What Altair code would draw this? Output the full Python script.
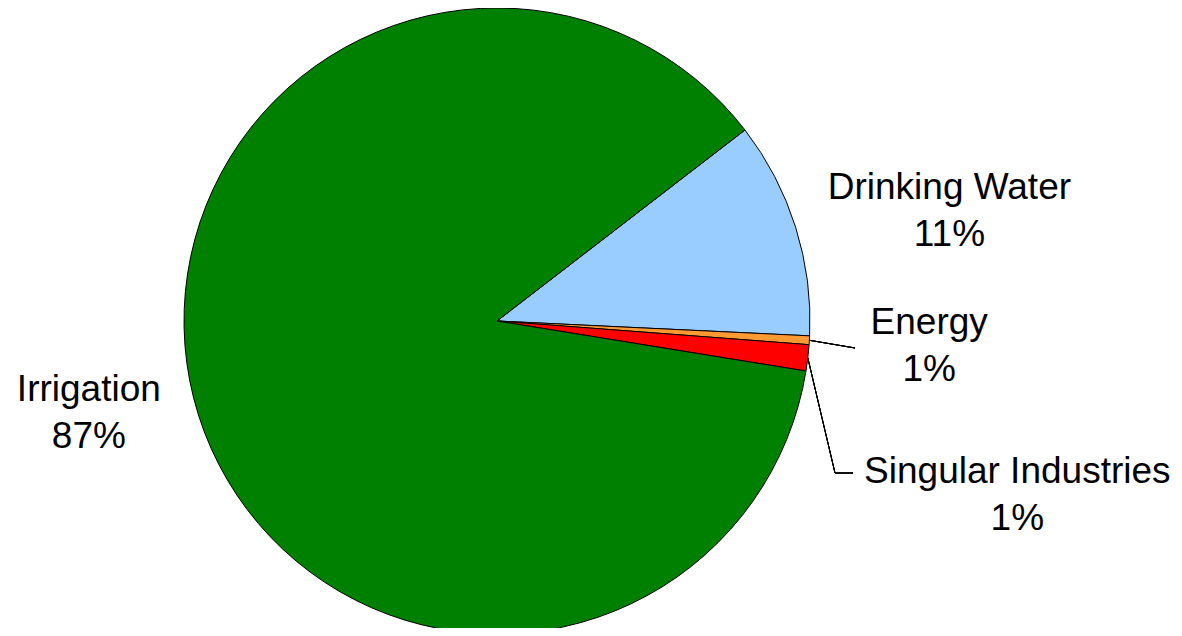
import math
import altair as alt
import pandas as pd

# ---- data ----
categories = ["Drinking Water", "Energy", "Singular Industries", "Irrigation"]
shares = [11.2, 0.45, 1.35, 87.0]
pct_labels = ["11%", "1%", "1%", "87%"]
colors = ["#99CCFF", "#FF9933", "#FF0000", "#008000"]

# ---- layout / style ----
START_DEG = 52.4
W, H = 1166, 620
CX, CY, R = 489, 313, 313
FONT = "Liberation Sans"
FS = 37
LH = 47
label_layout = {  # radius, dx, dy
    "Drinking Water": (470, 4, 8),
    "Energy": (432, 1, -25),
    "Singular Industries": (530, -6, 89),
    "Irrigation": (420, -1, -34),
}

total = sum(shares)
df = pd.DataFrame({
    "category": categories,
    "share": shares,
    "label": [c + "\n" + p for c, p in zip(categories, pct_labels)],
    "idx": list(range(len(categories))),
})

start = math.radians(START_DEG)
theta_scale = alt.Scale(domain=[0, total], range=[start, start + 2 * math.pi])
color_enc = alt.Color("category:N", scale=alt.Scale(domain=categories, range=colors), legend=None)

base = alt.Chart(df)

pie = base.mark_arc(radius=R, stroke="black", strokeWidth=1).encode(
    theta=alt.Theta("share:Q", stack=True, scale=theta_scale),
    color=color_enc,
    order=alt.Order("idx:Q"),
    x=alt.value(CX),
    y=alt.value(CY),
)

layers = [pie]
for i, cat in enumerate(categories):
    r, dx, dy = label_layout[cat]
    t = (
        base.transform_window(cum="sum(share)", sort=[alt.SortField("idx")], frame=[None, 0])
        .transform_calculate(mid="datum.cum - datum.share / 2")
        .transform_filter(alt.datum.idx == i)
        .mark_text(radius=r, dx=dx, dy=dy, font=FONT, fontSize=FS, lineBreak="\n",
                   lineHeight=LH, align="center", baseline="middle", color="black")
        .encode(
            theta=alt.Theta("mid:Q", stack=None, scale=theta_scale),
            text="label:N",
            x=alt.value(CX),
            y=alt.value(CY),
        )
    )
    layers.append(t)


# ---- leader lines for the two thin slices (start derived from the slice angle) ----
def edge_point(cat):
    i = categories.index(cat)
    cum = sum(shares[: i + 1]) - shares[i] / 2
    a = start + 2 * math.pi * cum / total
    return CX + R * math.sin(a), CY - R * math.cos(a)


ex, ey = edge_point("Energy")
sx, sy = edge_point("Singular Industries")
segments = [
    (ex, ey, CX + 358, CY + 27),
    (sx, sy, CX + 338, CY + 152),
    (CX + 338, CY + 152, CX + 356, CY + 152),
]
for x1, y1, x2, y2 in segments:
    layers.append(
        base.mark_rule(color="black", strokeWidth=1).encode(
            x=alt.value(x1), y=alt.value(y1), x2=alt.value(x2), y2=alt.value(y2)
        )
    )

chart = (
    alt.layer(*layers)
    .properties(width=W, height=H, autosize="none", padding=0, background="white")
    .configure_view(stroke=None)
)

chart.save("out.html", embed_options={"renderer": "svg", "actions": False})
